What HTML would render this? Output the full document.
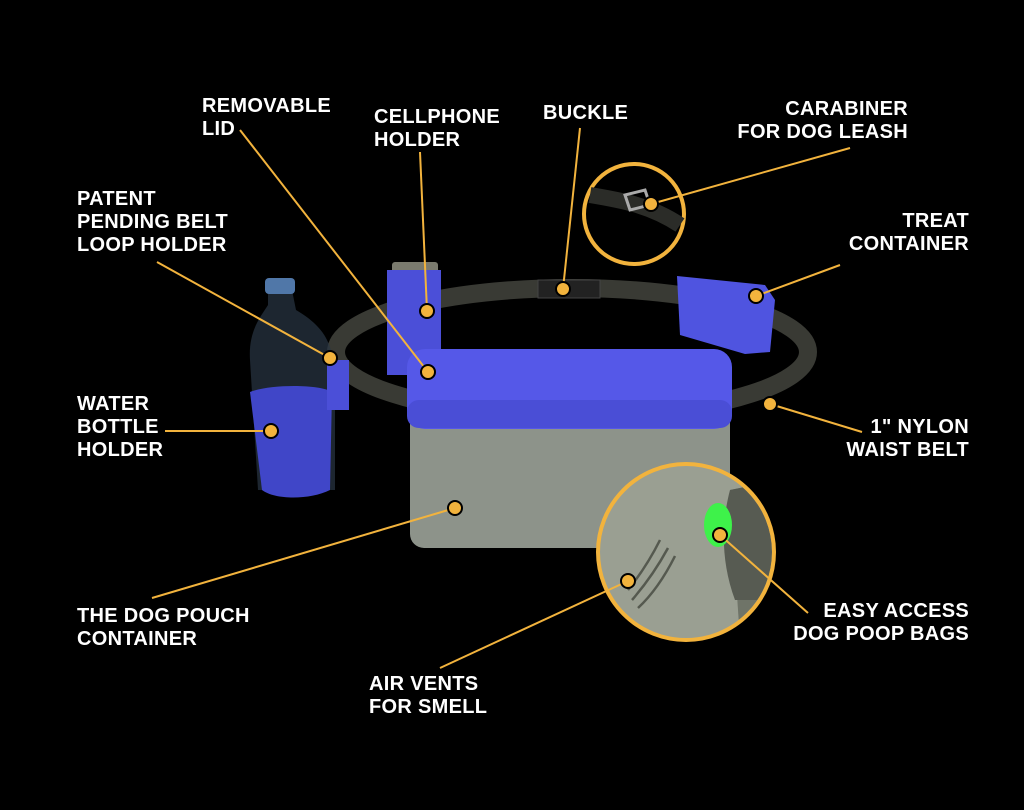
<!DOCTYPE html>
<html><head><style>
html,body{margin:0;padding:0;background:#000;}
svg{display:block}
text{font-family:"Liberation Sans",Arial,sans-serif;font-weight:bold;font-size:20px;fill:#fff;letter-spacing:0.3px}
</style></head><body>
<svg width="1024" height="810" viewBox="0 0 1024 810" xmlns="http://www.w3.org/2000/svg">
<defs><clipPath id="cc"><circle cx="686" cy="552" r="86"/></clipPath></defs>
<rect width="1024" height="810" fill="#000"/>
<!-- belt -->
<ellipse cx="572" cy="352" rx="236" ry="64" fill="none" stroke="#393a34" stroke-width="18"/>
<!-- buckle -->
<rect x="538" y="280" width="62" height="18" fill="#222" stroke="#444"/>
<!-- cellphone holder -->
<rect x="392" y="262" width="46" height="12" rx="3" fill="#7a7a6e"/>
<rect x="387" y="270" width="54" height="105" fill="#4b4fd8"/>
<!-- treat container -->
<path d="M677,276 L765,285 L775,300 L770,352 L745,354 L680,335 Z" fill="#4f54e0"/>
<!-- bottle -->
<path d="M268,290 L292,290 L296,310 C330,330 335,350 335,390 L335,490 L258,490 L250,360 C248,330 262,315 268,305 Z" fill="#2a3644" opacity="0.7"/>
<rect x="265" y="278" width="30" height="16" rx="4" fill="#5077a8"/>
<path d="M250,392 C270,384 320,384 332,392 L330,490 C310,500 275,500 262,490 Z" fill="#4046c8"/>
<rect x="327" y="360" width="22" height="50" fill="#4b4fd8"/>
<!-- box body -->
<rect x="410" y="395" width="320" height="153" rx="14" fill="#8d938a"/>
<!-- lid -->
<rect x="407" y="349" width="325" height="80" rx="18" fill="#5558e8"/>
<rect x="407" y="400" width="325" height="28" rx="12" fill="#4a4ed6"/>
<!-- carabiner circle -->
<circle cx="634" cy="214" r="50" fill="#000" stroke="#f2b33d" stroke-width="4"/>
<g clip-path="url(#cc)"></g>
<path d="M590,195 C620,200 650,205 680,225" stroke="#2b2c28" stroke-width="16" fill="none"/>
<path d="M625,195 L645,190 L650,205 L630,210 Z" fill="none" stroke="#aaa" stroke-width="3"/>
<!-- big zoom circle -->
<circle cx="686" cy="552" r="88" fill="#9a9f92"/>
<g clip-path="url(#cc)">
<path d="M730,490 L780,480 L780,640 L740,640 Z" fill="#6f7468"/>
<path d="M730,490 C722,520 720,560 735,600 L780,600 L780,480 Z" fill="#575b52"/>
</g>
<circle cx="686" cy="552" r="88" fill="none" stroke="#f2b33d" stroke-width="4"/>
<ellipse cx="718" cy="525" rx="14" ry="22" fill="#3ef24a"/>
<path d="M660,540 C650,560 640,575 628,590 M668,548 C656,570 645,585 632,600 M675,556 C664,578 652,595 638,608" stroke="#55594f" stroke-width="2.5" fill="none"/>
<!-- connector lines -->
<g stroke="#f2b33d" stroke-width="2" fill="none">
<line x1="240" y1="130" x2="428" y2="372"/>
<line x1="420" y1="152" x2="427" y2="311"/>
<line x1="580" y1="128" x2="563" y2="289"/>
<line x1="850" y1="148" x2="651" y2="204"/>
<line x1="157" y1="262" x2="330" y2="358"/>
<line x1="840" y1="265" x2="756" y2="296"/>
<line x1="165" y1="431" x2="271" y2="431"/>
<line x1="862" y1="432" x2="770" y2="404"/>
<line x1="152" y1="598" x2="455" y2="508"/>
<line x1="808" y1="613" x2="720" y2="535"/>
<line x1="440" y1="668" x2="628" y2="581"/>
</g>
<g fill="#f2b33d" stroke="#000" stroke-width="2">
<circle cx="428" cy="372" r="7"/><circle cx="427" cy="311" r="7"/><circle cx="563" cy="289" r="7"/>
<circle cx="651" cy="204" r="7"/><circle cx="330" cy="358" r="7"/><circle cx="756" cy="296" r="7"/>
<circle cx="271" cy="431" r="7"/><circle cx="770" cy="404" r="7"/><circle cx="455" cy="508" r="7"/>
<circle cx="720" cy="535" r="7"/><circle cx="628" cy="581" r="7"/>
</g>
<!-- labels -->
<text x="202" y="112">REMOVABLE</text><text x="202" y="135">LID</text>
<text x="374" y="123">CELLPHONE</text><text x="374" y="146">HOLDER</text>
<text x="543" y="119">BUCKLE</text>
<text x="908" y="115" text-anchor="end">CARABINER</text><text x="908" y="138" text-anchor="end">FOR DOG LEASH</text>
<text x="77" y="205">PATENT</text><text x="77" y="228">PENDING BELT</text><text x="77" y="251">LOOP HOLDER</text>
<text x="969" y="227" text-anchor="end">TREAT</text><text x="969" y="250" text-anchor="end">CONTAINER</text>
<text x="77" y="410">WATER</text><text x="77" y="433">BOTTLE</text><text x="77" y="456">HOLDER</text>
<text x="969" y="433" text-anchor="end">1" NYLON</text><text x="969" y="456" text-anchor="end">WAIST BELT</text>
<text x="77" y="622">THE DOG POUCH</text><text x="77" y="645">CONTAINER</text>
<text x="969" y="617" text-anchor="end">EASY ACCESS</text><text x="969" y="640" text-anchor="end">DOG POOP BAGS</text>
<text x="369" y="690">AIR VENTS</text><text x="369" y="713">FOR SMELL</text>
</svg>
</body></html>
